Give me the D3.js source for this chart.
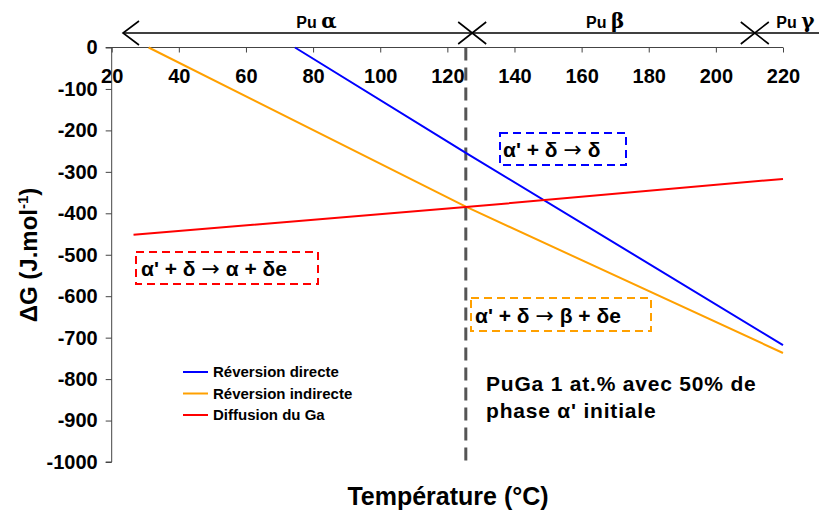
<!DOCTYPE html>
<html>
<head>
<meta charset="utf-8">
<script src="https://cdn.jsdelivr.net/npm/d3@7"></script>
<style>
  html, body { margin: 0; padding: 0; background: #fff; }
  svg { display: block; font-family: "Liberation Sans", Arial, sans-serif; }
</style>
</head>
<body>
<svg id="chart" width="819" height="513"></svg>
<script>
// ---------- data ----------
const xTicks = [20, 40, 60, 80, 100, 120, 140, 160, 180, 200, 220];
const yTicks = [0, -100, -200, -300, -400, -500, -600, -700, -800, -900, -1000];

const seriesNames = ["Réversion directe", "Réversion indirecte", "Diffusion du Ga"];
const seriesColors = ["#0000ff", "#ffa000", "#ff0000"];

const directeT = [74.6, 125.5, 220];
const directeG = [0, -254, -718];
const indirecteT = [31, 125.5, 220];
const indirecteG = [0, -384, -737];
const diffusionT = [26.5, 125.5, 220];
const diffusionG = [-452, -385, -317];

const transitionT = 125.5;          // dashed vertical line
const phaseMarks = [127.4, 211.6];  // X marks on the phase arrow
const phaseLabels = ["Pu ", "Pu ", "Pu "];
const phaseGreek = ["α", "β", "γ"];
const phaseLabelT = [81, 167, 218];

const boxTexts = ["α' + δ → δ", "α' + δ → β + δe", "α' + δ → α + δe"];
const noteLines = ["PuGa 1 at.% avec 50% de", "phase α' initiale"];

// ---------- layout ----------
const svg = d3.select("#chart");
const x = d3.scaleLinear().domain([20, 220]).range([111.7, 783]);
const y = d3.scaleLinear().domain([-1000, 0]).range([462, 47.5]);
const fmt = d => String(d);

// dashed transition line
svg.append("line")
  .attr("x1", x(transitionT)).attr("x2", x(transitionT))
  .attr("y1", y(0)).attr("y2", y(-1000))
  .attr("stroke", "#555").attr("stroke-width", 3)
  .attr("stroke-dasharray", "13,7");

// y axis
const yAxis = svg.append("g")
  .attr("transform", `translate(${x(20)},0)`)
  .call(d3.axisLeft(y).tickValues(yTicks).tickSize(6).tickPadding(8).tickFormat(fmt));
yAxis.selectAll("text").attr("font-size", 20).attr("font-weight", "bold")
  .attr("font-family", "Liberation Sans, Arial, sans-serif").attr("fill", "#000");
yAxis.selectAll("line").attr("stroke", "#444");
yAxis.select(".domain").attr("stroke", "#444").attr("d", `M-6,${y(-1000)}H0V${y(0)}`);

// x axis at y=0
const xAxis = svg.append("g")
  .attr("transform", `translate(0,${y(0)})`)
  .call(d3.axisBottom(x).tickValues(xTicks).tickSize(5).tickPadding(16).tickFormat(fmt));
xAxis.selectAll("text").attr("font-size", 20).attr("font-weight", "bold")
  .attr("font-family", "Liberation Sans, Arial, sans-serif").attr("fill", "#000");
xAxis.selectAll("line").attr("stroke", "#444");
xAxis.select(".domain").attr("stroke", "#444").attr("d", `M${x(20) - 6},0H${x(220)}`);

// series lines
const line = d3.line().x(d => x(d[0])).y(d => y(d[1]));
const seriesData = [
  d3.zip(directeT, directeG),
  d3.zip(indirecteT, indirecteG),
  d3.zip(diffusionT, diffusionG)
];
svg.append("g").selectAll("path").data(seriesData).join("path")
  .attr("d", line)
  .attr("fill", "none")
  .attr("stroke", (d, i) => seriesColors[i])
  .attr("stroke-width", 2);

// legend
const legend = svg.append("g");
const legY = [372, 393.5, 415];
seriesNames.forEach((n, i) => {
  legend.append("line").attr("x1", 183).attr("x2", 208)
    .attr("y1", legY[i]).attr("y2", legY[i])
    .attr("stroke", seriesColors[i]).attr("stroke-width", 2);
  legend.append("text").attr("x", 213).attr("y", legY[i]).attr("dy", "0.36em")
    .attr("font-size", 15).attr("font-weight", "bold").text(n);
});

// phase arrow on top
const arrowY = 33;
const phaseG = svg.append("g").attr("stroke", "#000").attr("stroke-width", 1.6).attr("fill", "none");
phaseG.append("line").attr("x1", 123).attr("x2", 819).attr("y1", arrowY).attr("y2", arrowY);
phaseG.append("path").attr("d", `M139,21L123,${arrowY}L139,45`);
phaseMarks.forEach(t => {
  const cx = x(t);
  phaseG.append("path").attr("d", `M${cx - 14},${arrowY - 11}L${cx + 14},${arrowY + 11}M${cx - 14},${arrowY + 11}L${cx + 14},${arrowY - 11}`);
});
phaseLabels.forEach((p, i) => {
  const t = svg.append("text")
    .attr("x", x(phaseLabelT[i])).attr("y", 28)
    .attr("text-anchor", i === 2 ? "start" : "middle")
    .attr("font-family", "Liberation Sans, Arial, sans-serif")
    .attr("font-weight", "bold").attr("font-size", 16);
  t.append("tspan").text(p);
  t.append("tspan").attr("font-size", 20).attr("font-family", "DejaVu Serif, serif").attr("font-weight", "bold").text(phaseGreek[i]);
});

// annotation boxes
const boxes = [
  { x0: 500, y0: 133, x1: 626, y1: 165, tx: 503, ty: 157, c: seriesColors[0], t: boxTexts[0] },
  { x0: 471, y0: 298, x1: 651, y1: 331, tx: 475, ty: 323, c: seriesColors[1], t: boxTexts[1] },
  { x0: 136, y0: 252, x1: 318, y1: 284, tx: 141, ty: 276, c: seriesColors[2], t: boxTexts[2] }
];
boxes.forEach(b => {
  svg.append("rect").attr("x", b.x0).attr("y", b.y0)
    .attr("width", b.x1 - b.x0).attr("height", b.y1 - b.y0)
    .attr("fill", "#fff").attr("stroke", b.c).attr("stroke-width", 2)
    .attr("stroke-dasharray", "8,5");
  const tx = svg.append("text").attr("x", b.tx).attr("y", b.ty)
    .attr("font-size", 21).attr("font-weight", "bold");
  const parts = b.t.split("→");
  parts.forEach((p, k) => {
    tx.append("tspan").text(p);
    if (k < parts.length - 1) {
      tx.append("tspan").attr("font-family", "DejaVu Sans, sans-serif").attr("font-weight", "normal")
        .attr("font-size", 22).text("→");
    }
  });
});

// note text
noteLines.forEach((l, i) => {
  svg.append("text").attr("x", 486).attr("y", 391 + i * 27)
    .attr("font-size", 21).attr("font-weight", "bold").attr("letter-spacing", 0.8).text(l);
});

// axis titles
svg.append("text").attr("x", 448).attr("y", 505).attr("text-anchor", "middle")
  .attr("font-size", 25).attr("font-weight", "bold").text("Température (°C)");
const yt = svg.append("text").attr("transform", "translate(37,255) rotate(-90)")
  .attr("text-anchor", "middle").attr("font-size", 24).attr("font-weight", "bold");
yt.append("tspan").text("ΔG (J.mol");
yt.append("tspan").attr("font-size", 15).attr("dy", -9).text("-1");
yt.append("tspan").attr("dy", 9).text(")");
</script>
</body>
</html>
